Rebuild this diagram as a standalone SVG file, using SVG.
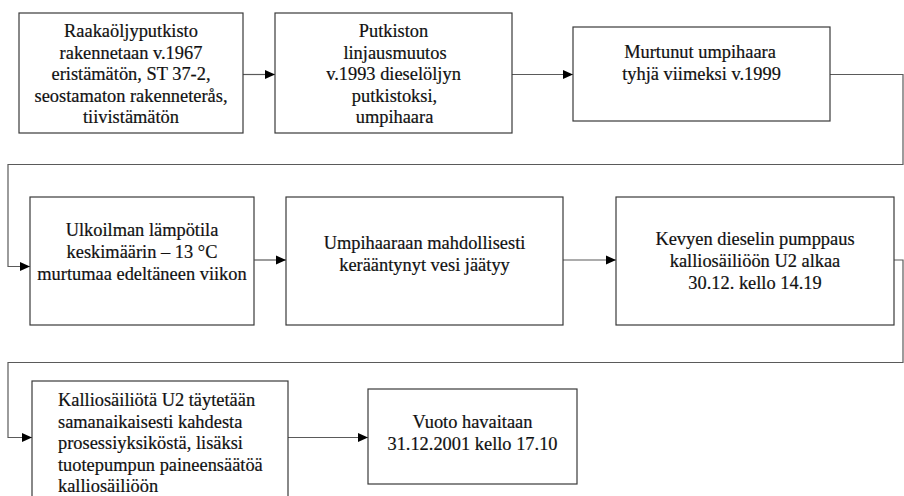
<svg xmlns="http://www.w3.org/2000/svg" width="904" height="496" viewBox="0 0 904 496">
<defs>
<marker id="ah" markerUnits="userSpaceOnUse" markerWidth="11" markerHeight="10" refX="10" refY="5" orient="auto">
<path d="M0,0.5 L10,5 L0,9.5 z" fill="#000"/>
</marker>
<style>
.box{fill:#fff;stroke:#3a3a3a;stroke-width:1.2}
.t{font-family:"Liberation Serif","Times New Roman",serif;font-size:18.4px;fill:#111;stroke:#111;stroke-width:0.2;text-anchor:middle}
.l{text-anchor:start}
.c{fill:none;stroke:#5a5a5a;stroke-width:1.2}
</style>
</defs>
<rect width="904" height="496" fill="#fff"/>
<g id="connectors">
<path class="c" d="M243,74.5 H275" marker-end="url(#ah)"/>
<path class="c" d="M512,74.5 H573" marker-end="url(#ah)"/>
<path class="c" d="M830,74.5 H903 V164.5 H8 V266.5 H30" marker-end="url(#ah)"/>
<path class="c" d="M254,260 H286" marker-end="url(#ah)"/>
<path class="c" d="M563,260 H616" marker-end="url(#ah)"/>
<path class="c" d="M894,260 H903 V362.5 H8 V437.5 H32" marker-end="url(#ah)"/>
<path class="c" d="M288,437.5 H368" marker-end="url(#ah)"/>
</g>
<g id="n1">
<rect class="box" x="19" y="13" width="224" height="120"/>
<text class="t" x="131" y="37">Raakaöljyputkisto</text>
<text class="t" x="131" y="58.5">rakennetaan v.1967</text>
<text class="t" x="131" y="80">eristämätön, ST 37-2,</text>
<text class="t" x="131" y="101.5">seostamaton rakenneterås,</text>
<text class="t" x="131" y="123">tiivistämätön</text>
</g>
<g id="n2">
<rect class="box" x="275" y="13" width="237" height="120"/>
<text class="t" x="393.5" y="37">Putkiston</text>
<text class="t" x="395" y="58.5">linjausmuutos</text>
<text class="t" x="393.5" y="80">v.1993 dieselöljyn</text>
<text class="t" x="394.5" y="101.5">putkistoksi,</text>
<text class="t" x="394.5" y="123">umpihaara</text>
</g>
<g id="n3">
<rect class="box" x="573" y="27" width="257" height="94"/>
<text class="t" x="700" y="58">Murtunut umpihaara</text>
<text class="t" x="701.5" y="80">tyhjä viimeksi v.1999</text>
</g>
<g id="n4">
<rect class="box" x="30" y="197" width="224" height="128"/>
<text class="t" x="142" y="236">Ulkoilman lämpötila</text>
<text class="t" x="142" y="258">keskimäärin – 13 °C</text>
<text class="t" x="142" y="280">murtumaa edeltäneen viikon</text>
</g>
<g id="n5">
<rect class="box" x="286" y="197" width="277" height="128"/>
<text class="t" x="424.5" y="249">Umpihaaraan mahdollisesti</text>
<text class="t" x="424.5" y="271">kerääntynyt vesi jäätyy</text>
</g>
<g id="n6">
<rect class="box" x="616" y="197" width="278" height="128"/>
<text class="t" x="755" y="245">Kevyen dieselin pumppaus</text>
<text class="t" x="755" y="267">kalliosäiliöön U2 alkaa</text>
<text class="t" x="755" y="289">30.12. kello 14.19</text>
</g>
<g id="n7">
<rect class="box" x="32" y="381" width="256" height="130"/>
<text class="t l" x="58" y="406">Kalliosäiliötä U2 täytetään</text>
<text class="t l" x="58" y="427.5">samanaikaisesti kahdesta</text>
<text class="t l" x="58" y="449">prosessiyksiköstä, lisäksi</text>
<text class="t l" x="58" y="470.5">tuotepumpun paineensäätöä</text>
<text class="t l" x="58" y="492">kalliosäiliöön</text>
</g>
<g id="n8">
<rect class="box" x="368" y="389" width="209" height="95"/>
<text class="t" x="472.5" y="428">Vuoto havaitaan</text>
<text class="t" x="472.5" y="450">31.12.2001 kello 17.10</text>
</g>
</svg>
